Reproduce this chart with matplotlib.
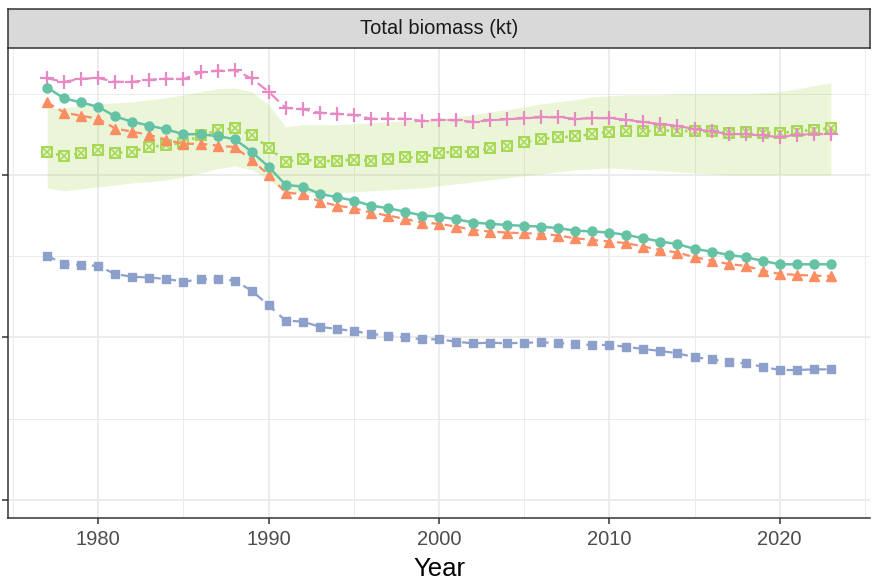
import matplotlib
matplotlib.use("Agg")
import matplotlib.pyplot as plt
import numpy as np

plt.rcParams['font.family'] = ['Liberation Sans', 'DejaVu Sans']

years = list(range(1977, 2024))

series_a = [2537, 2470, 2445, 2418, 2359, 2326, 2303, 2279, 2250, 2250, 2238, 2220, 2143, 2049,
            1938, 1928, 1883, 1863, 1842, 1811, 1795, 1774, 1750, 1743, 1727, 1707, 1699, 1692,
            1686, 1682, 1672, 1657, 1652, 1645, 1631, 1610, 1590, 1574, 1545, 1528, 1508, 1494,
            1471, 1450, 1450, 1450, 1450]
series_b = [2445, 2383, 2363, 2345, 2285, 2265, 2246, 2215, 2191, 2191, 2180, 2171, 2092, 2000,
            1891, 1881, 1836, 1811, 1795, 1768, 1750, 1729, 1707, 1699, 1682, 1662, 1651, 1645,
            1641, 1637, 1627, 1610, 1600, 1590, 1580, 1559, 1538, 1522, 1494, 1473, 1452, 1440,
            1411, 1391, 1385, 1380, 1378]
series_c = [1503, 1450, 1446, 1440, 1389, 1374, 1368, 1360, 1343, 1358, 1358, 1350, 1288, 1198,
            1103, 1098, 1066, 1052, 1040, 1022, 1011, 1001, 989, 989, 974, 964, 968, 964,
            968, 970, 966, 958, 954, 954, 943, 929, 917, 903, 878, 866, 849, 841,
            820, 800, 800, 804, 804]
series_d = [2593, 2572, 2591, 2595, 2572, 2572, 2585, 2591, 2589, 2630, 2640, 2644, 2593, 2511,
            2412, 2403, 2382, 2375, 2369, 2345, 2345, 2345, 2332, 2339, 2335, 2326, 2335, 2342,
            2348, 2354, 2354, 2345, 2348, 2349, 2339, 2324, 2312, 2302, 2281, 2267, 2252, 2250,
            2242, 2232, 2246, 2250, 2252]
series_e = [2140, 2115, 2135, 2152, 2134, 2143, 2172, 2183, 2197, 2242, 2273, 2287, 2244, 2168,
            2080, 2097, 2082, 2088, 2092, 2088, 2099, 2107, 2107, 2134, 2143, 2143, 2164, 2179,
            2199, 2220, 2230, 2236, 2252, 2263, 2267, 2267, 2273, 2271, 2267, 2267, 2257, 2263,
            2260, 2257, 2267, 2277, 2287]
ribbon_upper = [2412, 2412, 2425, 2437, 2443, 2449, 2462, 2474, 2492, 2511, 2529, 2535, 2511, 2431,
                2295, 2308, 2308, 2308, 2314, 2320, 2326, 2332, 2339, 2345, 2357, 2369, 2388, 2400,
                2418, 2437, 2449, 2462, 2480, 2486, 2492, 2492, 2492, 2499, 2499, 2499, 2499, 2499,
                2505, 2511, 2529, 2548, 2566]
ribbon_lower = [1920, 1902, 1914, 1926, 1938, 1951, 1957, 1969, 1988, 2012, 2037, 2055, 2031, 1969,
                1895, 1889, 1889, 1889, 1895, 1902, 1908, 1914, 1920, 1932, 1945, 1957, 1969, 1982,
                1994, 2006, 2018, 2031, 2037, 2043, 2037, 2031, 2025, 2018, 2012, 2006, 2000, 2000,
                2000, 2000, 2000, 2000, 2000]

x_major = [1980, 1990, 2000, 2010, 2020]
x_minor = [1975, 1985, 1995, 2005, 2015, 2025]
y_major = [0, 1000, 2000]
y_minor = [500, 1500, 2500]

fig = plt.figure(figsize=(8.73, 5.84), dpi=100)
ax = fig.add_axes([8/873, 66/584, 862/873, 470/584])

ax.set_xlim(1974.7, 2025.3)
ax.set_ylim(-110, 2780)

grid_c = '#EBEBEB'
for v in x_major:
    ax.axvline(v, color=grid_c, lw=1.3, zorder=0)
for v in x_minor:
    ax.axvline(v, color=grid_c, lw=0.7, zorder=0)
for v in y_major:
    ax.axhline(v, color=grid_c, lw=1.3, zorder=0)
for v in y_minor:
    ax.axhline(v, color=grid_c, lw=0.7, zorder=0)

ax.fill_between(years, ribbon_lower, ribbon_upper, color='#A6D854', alpha=0.22, lw=0, zorder=1)

lw = 1.6
ax.plot(years, series_e, color='#A6D854', lw=lw + 0.3, dashes=(1, 2.5), zorder=2)
ax.plot(years, series_e, ls='none', marker='s', ms=7, mfc='#E4F3CC', mec='#A6D854', mew=1.4, zorder=2)
ax.plot(years, series_e, ls='none', marker='x', ms=6.2, mec='#A6D854', mew=1.1, zorder=2)

ax.plot(years, series_d, color='#E78AC3', lw=lw, dashes=(5, 2.5), marker='+', ms=10.5, mew=1.6, zorder=3)
ax.plot(years, series_c, color='#8DA0CB', lw=lw, dashes=(4, 3), marker='s', ms=5.5, zorder=3)
ax.plot(years, series_b, color='#FC8D62', lw=lw, dashes=(3.5, 2.5), marker='^', ms=7, zorder=3)
ax.plot(years, series_a, color='#66C2A5', lw=lw + 0.2, ls='-', marker='o', ms=6.5, zorder=4)

ax.set_xticks(x_major)
ax.set_xticklabels([str(v) for v in x_major], fontsize=14.5, color='#4D4D4D')
ax.set_yticks(y_major)
ax.set_yticklabels([])
ax.tick_params(axis='both', length=4.5, width=1.1, color='#333333')
ax.tick_params(axis='x', pad=4)
ax.set_xlabel('Year', fontsize=18.5, color='black', labelpad=6)

for sp in ['top', 'right']:
    ax.spines[sp].set_visible(False)
for sp in ['left', 'bottom']:
    ax.spines[sp].set_color('#333333')
    ax.spines[sp].set_linewidth(1.1)

# strip
sax = fig.add_axes([8/873, 536/584, 862/873, 39/584])
sax.set_xlim(0, 1)
sax.set_ylim(0, 1)
sax.set_facecolor('#D9D9D9')
sax.set_xticks([])
sax.set_yticks([])
for sp in sax.spines.values():
    sp.set_color('#333333')
    sp.set_linewidth(1.1)
sax.text(0.5, 0.5, 'Total biomass (kt)', ha='center', va='center', fontsize=14.5, color='#1A1A1A')

fig.savefig('out.png', dpi=100)
